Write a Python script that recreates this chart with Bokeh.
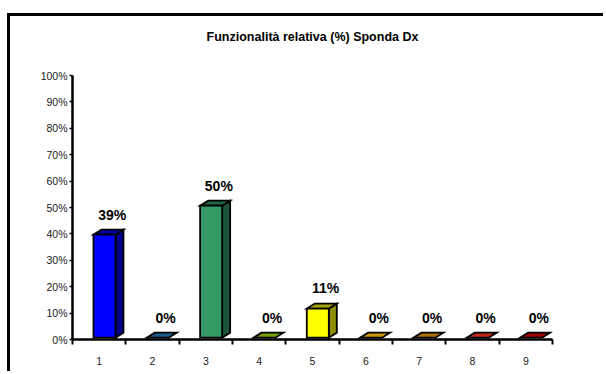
import numpy as np
from bokeh.plotting import figure
from bokeh.models import FixedTicker, PrintfTickFormatter, ColumnDataSource, Title
from bokeh.core.properties import value
from bokeh.embed import file_html
from bokeh.resources import INLINE

# ---- data ----
categories = [1, 2, 3, 4, 5, 6, 7, 8, 9]
values = [39, 0, 50, 0, 11, 0, 0, 0, 0]
value_labels = [f"{v}%" for v in values]
y_ticks = [0, 10, 20, 30, 40, 50, 60, 70, 80, 90, 100]
title_text = "Funzionalità relativa (%) Sponda Dx"

# ---- styles ----
front_colors = ["#0000FF", "#1F6FA8", "#339966", "#8DB800", "#FFFF00",
                "#F2B400", "#C98600", "#E0301E", "#C00000"]


def shade(hexc, f):
    h = hexc.lstrip("#")
    r, g, b = (int(h[i:i + 2], 16) for i in (0, 2, 4))
    return "#%02x%02x%02x" % (int(r * f), int(g * f), int(b * f))


side_colors = [shade(c, 0.55) for c in front_colors]
top_colors = [shade(c, 0.65) if v > 0 else shade(c, 0.85)
              for c, v in zip(front_colors, values)]

FL, FR = -0.107, 0.306      # front face edges relative to category
DX, DY = 0.15, 1.9          # 3D depth offsets (data units)
BASE = 0.7

p = figure(width=596, height=358, x_range=(0.5, 9.5), y_range=(0, 100),
           output_backend="svg", toolbar_location=None,
           min_border_left=62, min_border_right=54, min_border_top=59,
           min_border_bottom=35, background_fill_color="white",
           border_fill_color="white", outline_line_color=None)
p.styles = {"border-left": "3px solid black", "border-top": "3px solid black",
            "margin-left": "7px", "margin-top": "13px"}

p.title.text = title_text
p.title.align = "center"
p.title.text_font = "Liberation Sans"
p.title.text_font_size = "12.5px"
p.title.text_font_style = "bold"
p.title.text_color = "black"
p.title.standoff = 0
p.title.offset = 8

# blank spacer between the plot area and the title, to lift the title
p.add_layout(Title(text=" ", standoff=16, text_font_size="12.5px",
                   text_font="Liberation Sans"), "above")

p.xgrid.visible = False
p.ygrid.visible = False

# faces
side_xs, side_ys, side_c = [], [], []
top_xs, top_ys, top_c = [], [], []
front_xs, front_ys, front_c = [], [], []
for i, (c, v) in enumerate(zip(categories, values)):
    L, R = c + FL, c + FR
    b, t = BASE, BASE + v
    if v > 0:
        side_xs.append([R, R + DX, R + DX, R])
        side_ys.append([b, b + DY, t + DY, t])
        side_c.append(side_colors[i])
        front_xs.append([L, R, R, L])
        front_ys.append([b, b, t, t])
        front_c.append(front_colors[i])
    top_xs.append([L, R, R + DX, L + DX])
    top_ys.append([t, t, t + DY, t + DY])
    top_c.append(top_colors[i])

p.patches(side_xs, side_ys, fill_color=side_c, line_color="black", line_width=1.8, line_join="miter")
p.patches(top_xs, top_ys, fill_color=top_c, line_color="black", line_width=1.8, line_join="miter")
p.patches(front_xs, front_ys, fill_color=front_c, line_color="black", line_width=1.8, line_join="miter")

src = ColumnDataSource(dict(x=categories, y=values, t=value_labels))
p.text(x="x", y="y", text="t", source=src, x_offset=13, y_offset=-22,
       text_align="center", text_baseline="middle",
       text_font=value("Liberation Sans"), text_font_style="bold",
       text_font_size="14px", text_color="black")

# y axis
p.yaxis.ticker = FixedTicker(ticks=y_ticks, minor_ticks=[])
p.yaxis.formatter = PrintfTickFormatter(format="%d%%")
p.yaxis.axis_line_width = 2.5
p.yaxis.axis_line_color = "black"
p.yaxis.major_tick_out = 3
p.yaxis.major_tick_in = 0
p.yaxis.major_tick_line_width = 1.5
p.yaxis.minor_tick_line_color = None
p.yaxis.major_label_standoff = 2
p.yaxis.major_label_text_font = "Liberation Sans"
p.yaxis.major_label_text_font_size = "10.5px"
p.yaxis.major_label_text_color = "#222222"

# x axis
p.xaxis.ticker = FixedTicker(ticks=categories,
                             minor_ticks=[c - 0.5 for c in categories] + [categories[-1] + 0.5])
p.xaxis.axis_line_width = 2.5
p.xaxis.axis_line_color = "black"
p.xaxis.major_tick_out = 0
p.xaxis.major_tick_in = 0
p.xaxis.minor_tick_out = 5
p.xaxis.minor_tick_in = 0
p.xaxis.minor_tick_line_width = 2
p.xaxis.minor_tick_line_color = "black"
p.xaxis.major_label_standoff = 12
p.xaxis.major_label_text_font = "Liberation Sans"
p.xaxis.major_label_text_font_size = "10.5px"
p.xaxis.major_label_text_color = "#222222"

open("out.html", "w").write(file_html(p, INLINE))
